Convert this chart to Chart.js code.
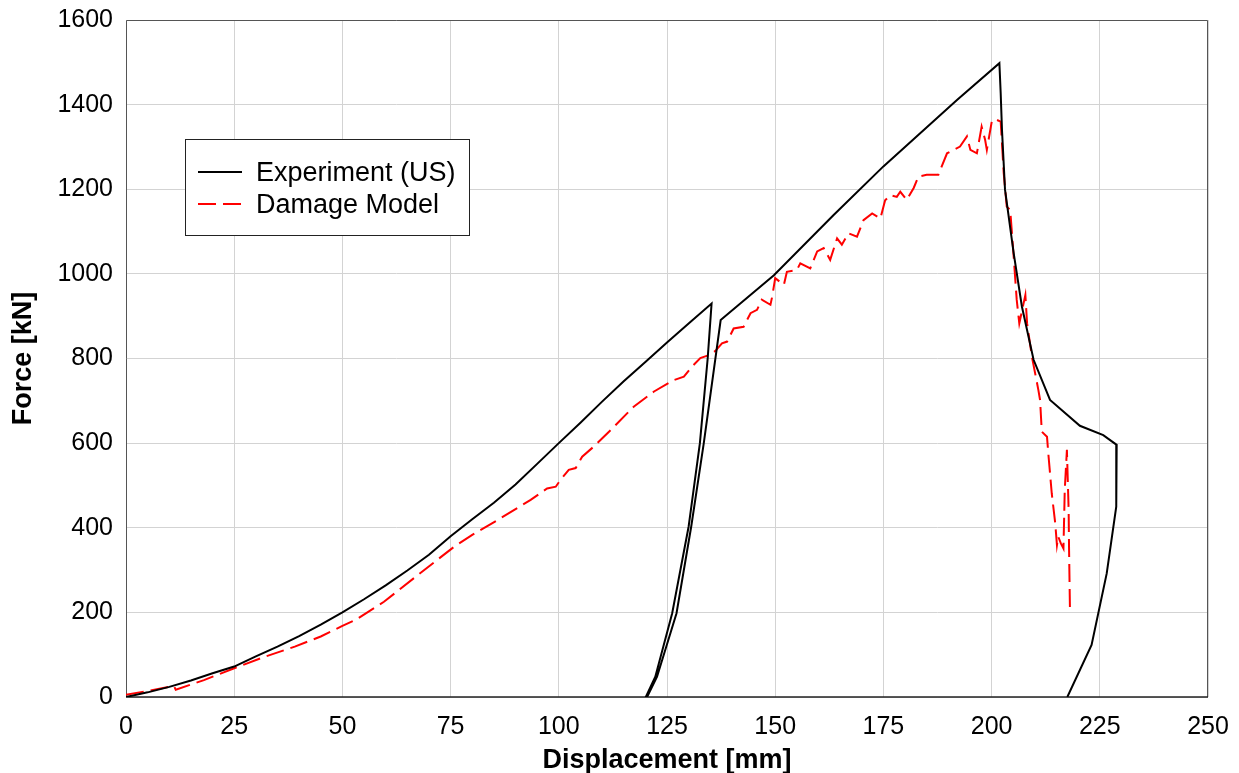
<!DOCTYPE html>
<html>
<head>
<meta charset="utf-8">
<script src="https://cdn.jsdelivr.net/npm/chart.js@4.4.1/dist/chart.umd.min.js"></script>
<style>
    html, body { margin: 0; padding: 0; background: #fff; }
    #wrap { width: 1239px; height: 773px; position: relative; }
</style>
</head>
<body>
<div id="wrap"><canvas id="forceChart"></canvas></div>
<script>

/* =========================
   DADOS
========================= */

const expX = [0, 5, 10, 15, 20, 25, 30, 35, 40, 45, 50, 55, 60, 65, 70, 75, 80, 85, 90, 95,
    100, 105, 110, 115, 120, 125, 130, 135.3,
    134.4, 132.6, 130.0, 126.2, 122.3, 120.1,
    120.4, 122.7, 127.2, 130.6, 133.5, 137.4,
    149.7, 163.5, 175, 192, 201.8,
    202.1, 202.4, 203.1, 205.1, 207, 209.7, 213.5, 220.4, 225.8, 228.9,
    228.8, 226.6, 223.1, 217.5];
const expY = [0, 11, 24, 39, 56, 72, 96, 119, 144, 171, 200, 231, 264, 299, 336, 380, 420, 459, 502, 551,
    600, 648, 698, 746, 792, 838, 883, 930,
    800, 600, 403, 198, 48, 0,
    0, 48, 198, 403, 600, 891,
    997, 1139, 1254, 1411, 1498,
    1427, 1340, 1199, 1049, 923, 797, 702, 641, 619, 596,
    450, 292, 123, 0];

const dmgX = [0, 8, 11.1, 11.5, 18, 25, 32, 39, 45, 50, 53, 59.6, 66.9, 71.9, 75.8, 80, 85.8, 93.5,
    97.3, 99.3, 100.4, 102.3, 103.9, 105.4, 108.1, 112, 117.3, 122, 126.6, 128.9, 130.8, 132.7,
    135, 136.2, 137.7, 138.9, 140.4, 142.7, 144.3, 145.8, 146.9, 148.9, 149.3, 150, 152, 152.7,
    155, 155.8, 158.1, 159.7, 161.2, 162.7, 164.3, 165.4, 166.9, 168.9, 170.4, 172.4, 174.3,
    175.4, 176.6, 178.1, 178.9, 180.4, 182, 183.1, 185, 187.7, 189.7, 192.7, 194.3, 195.1,
    196.6, 197.7, 198.5, 198.9, 200.1, 201.2, 202.1, 202.8, 203.5, 204.3, 205.1, 205.8, 206.4,
    207.8, 208.2, 209.3, 210.8, 211.2, 211.6, 212.8, 213.1, 213.9, 214.7, 215.1, 215.4, 216.0,
    216.6, 216.8, 216.9, 217.4, 217.6, 217.8, 217.9, 218.1];
const dmgY = [5, 20, 26, 17, 40, 68, 95, 119, 143, 168, 182, 225, 284, 324, 355, 383, 418, 466,
    493, 497, 513, 537, 541, 568, 592, 631, 686, 722, 749, 757, 781, 801,
    809, 818, 836, 840, 871, 875, 907, 915, 939, 927, 946, 990, 974, 1005,
    1009, 1025, 1013, 1053, 1061, 1033, 1084, 1069, 1096, 1088, 1127, 1143, 1131,
    1174, 1186, 1182, 1194, 1175, 1203, 1230, 1234, 1234, 1285, 1301, 1325, 1293,
    1285, 1348, 1317, 1293, 1364, 1364, 1360, 1238, 1159, 1151, 1041, 939, 883,
    950, 883, 805, 726, 702, 627, 615, 576, 481, 411, 359, 379, 363,
    351, 442, 489, 584, 513, 442, 347, 210];

const seriesNames = ["Experiment (US)", "Damage Model"];

const xTitle = "Displacement [mm]";
const yTitle = "Force [kN]";

const FONT = "'Liberation Sans', Arial, sans-serif";

const toPoints = (xs, ys) => xs.map((x, i) => ({ x, y: ys[i] }));


/* =========================
   MOLDURA + LEGENDA
========================= */

const framePlugin = {
    id: "frame",
    beforeDatasetsDraw(chart) {
        const { ctx, chartArea: a } = chart;
        ctx.save();
        ctx.lineWidth = 1;
        ctx.strokeStyle = "#555";
        ctx.beginPath();
        ctx.moveTo(a.left + 0.5, a.bottom);
        ctx.lineTo(a.left + 0.5, a.top + 0.5);
        ctx.lineTo(a.right - 0.5, a.top + 0.5);
        ctx.lineTo(a.right - 0.5, a.bottom);
        ctx.stroke();
        ctx.strokeStyle = "#222";
        ctx.lineWidth = 1.5;
        ctx.beginPath();
        ctx.moveTo(a.left, a.bottom);
        ctx.lineTo(a.right, a.bottom);
        ctx.stroke();
        ctx.restore();
    }
};

const legendPlugin = {
    id: "boxLegend",
    afterDraw(chart) {
        const { ctx } = chart;
        const box = { x: 185.5, y: 139.5, w: 284, h: 96 };
        ctx.save();
        ctx.fillStyle = "#fff";
        ctx.fillRect(box.x, box.y, box.w, box.h);
        ctx.strokeStyle = "#222";
        ctx.lineWidth = 1;
        ctx.strokeRect(box.x, box.y, box.w, box.h);

        chart.data.datasets.forEach((ds, i) => {
            const y = 172 + i * 32;
            ctx.strokeStyle = ds.borderColor;
            ctx.lineWidth = 2;
            ctx.setLineDash(ds.borderDash || []);
            ctx.beginPath();
            ctx.moveTo(198, y);
            ctx.lineTo(242, y);
            ctx.stroke();
            ctx.setLineDash([]);
            ctx.fillStyle = "#000";
            ctx.font = "27px " + FONT;
            ctx.textBaseline = "middle";
            ctx.fillText(ds.label, 256, y + 2);
        });
        ctx.restore();
    }
};


/* =========================
   GRÁFICO
========================= */

const canvas = document.getElementById("forceChart");

new Chart(canvas.getContext("2d"), {

    type: "scatter",

    data: {
        datasets: [
            {
                label: seriesNames[0],
                data: toPoints(expX, expY),
                showLine: true,
                borderColor: "#000000",
                borderWidth: 2,
                pointRadius: 0,
                tension: 0
            },
            {
                label: seriesNames[1],
                data: toPoints(dmgX, dmgY),
                showLine: true,
                borderColor: "#ff0000",
                borderWidth: 2,
                borderDash: [18, 7],
                pointRadius: 0,
                tension: 0
            }
        ]
    },

    options: {
        responsive: true,
        maintainAspectRatio: false,
        animation: false,
        layout: { padding: { top: 20, right: 31, left: 0, bottom: 0 } },
        plugins: {
            legend: { display: false },
            tooltip: { enabled: false }
        },
        scales: {
            x: {
                type: "linear",
                min: 0,
                max: 250,
                afterFit: s => {
                    s.height = 76;
                    s.paddingLeft = 0;
                    s.paddingRight = 0;
                },
                ticks: {
                    stepSize: 25,
                    padding: 15,
                    color: "#000",
                    font: { family: FONT, size: 25 },
                    callback: v => String(v)
                },
                grid: { color: "#d3d3d3", lineWidth: 1, drawTicks: false },
                border: { display: false },
                title: {
                    display: true,
                    text: xTitle,
                    color: "#000",
                    padding: { top: 0, bottom: -4 },
                    font: { family: FONT, size: 27, weight: "bold" }
                }
            },
            y: {
                type: "linear",
                min: 0,
                max: 1600,
                afterFit: s => {
                    s.width = 126;
                    s.paddingTop = 0;
                    s.paddingBottom = 0;
                },
                ticks: {
                    stepSize: 200,
                    padding: 13,
                    color: "#000",
                    font: { family: FONT, size: 25 },
                    callback: v => String(v)
                },
                grid: { color: "#d3d3d3", lineWidth: 1, drawTicks: false },
                border: { display: false },
                title: {
                    display: true,
                    text: yTitle,
                    color: "#000",
                    padding: { top: 7, bottom: 0 },
                    font: { family: FONT, size: 27, weight: "bold" }
                }
            }
        }
    },

    plugins: [framePlugin, legendPlugin]

});

</script>
</body>
</html>
